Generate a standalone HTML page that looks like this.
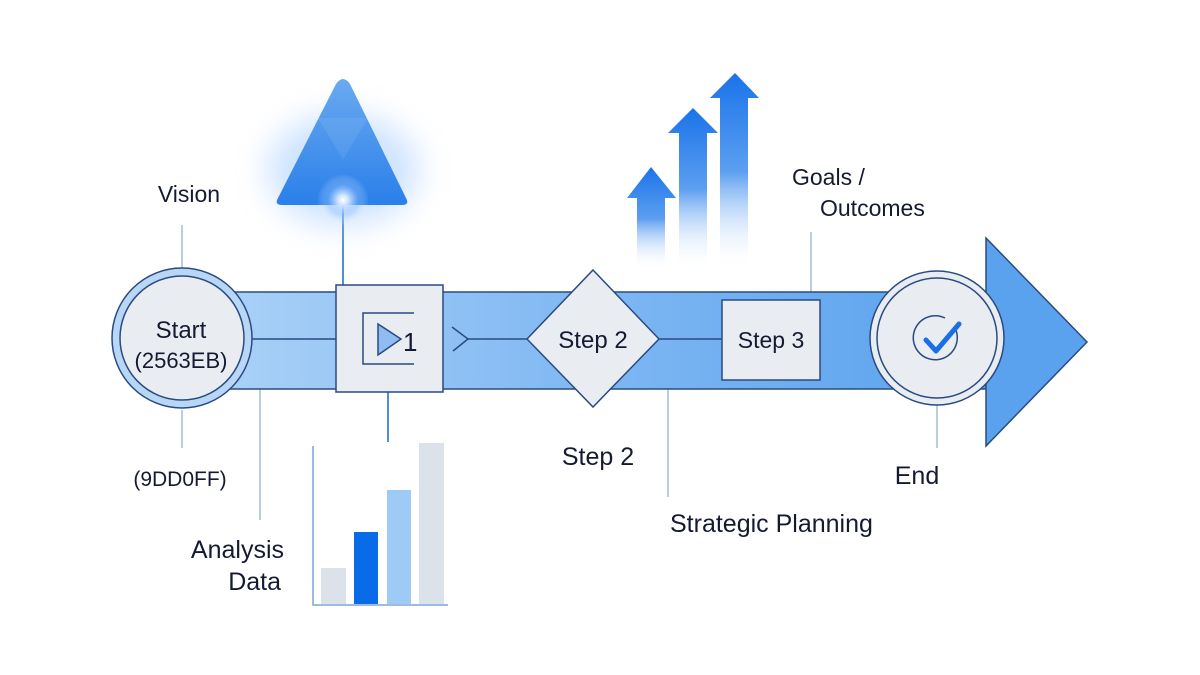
<!DOCTYPE html>
<html><head><meta charset="utf-8"><style>
html,body{margin:0;padding:0;background:#fff;}
svg{display:block;}
text{font-family:"Liberation Sans",sans-serif;fill:#151a33;}
</style></head><body>
<svg width="1200" height="675" viewBox="0 0 1200 675" xmlns="http://www.w3.org/2000/svg">
<defs>
<linearGradient id="band" x1="0" y1="0" x2="1" y2="0">
<stop offset="0" stop-color="#a9d0f7"/><stop offset="0.5" stop-color="#7db6f2"/><stop offset="1" stop-color="#5aa2ee"/>
</linearGradient>
<linearGradient id="arr" x1="0" y1="0" x2="0" y2="1">
<stop offset="0" stop-color="#1a73ea"/><stop offset="0.5" stop-color="#5c9ff0"/><stop offset="1" stop-color="#ffffff" stop-opacity="0"/>
</linearGradient>
<linearGradient id="tri" x1="0" y1="0" x2="0" y2="1">
<stop offset="0" stop-color="#6aaaf0"/><stop offset="1" stop-color="#2a7fea"/>
</linearGradient>
<radialGradient id="glow" cx="0.5" cy="0.5" r="0.5">
<stop offset="0" stop-color="#ffffff"/><stop offset="0.2" stop-color="#cfe4ff"/><stop offset="0.6" stop-color="#8fc0ff" stop-opacity="0.4"/><stop offset="1" stop-color="#ffffff" stop-opacity="0"/>
</radialGradient>
<filter id="blur" x="-100%" y="-100%" width="300%" height="300%"><feGaussianBlur stdDeviation="16"/></filter>
</defs>

<g stroke="#b9cde3" stroke-width="2">
<line x1="182" y1="225" x2="182" y2="268"/>
<line x1="182" y1="410" x2="182" y2="448"/>
<line x1="260" y1="388" x2="260" y2="520"/>
<line x1="668" y1="388" x2="668" y2="497"/>
<line x1="811" y1="232" x2="811" y2="292"/>
<line x1="937" y1="405" x2="937" y2="448"/>
</g>
<line x1="343" y1="200" x2="343" y2="286" stroke="#4f8fd8" stroke-width="2"/>
<line x1="388" y1="392" x2="388" y2="442" stroke="#4f8fd8" stroke-width="2"/>

<ellipse cx="343" cy="170" rx="75" ry="55" fill="#9ac6ff" opacity="0.5" filter="url(#blur)"/>
<path d="M336,84 Q343,74 350,84 L406,198 Q410,205 402,205 L282,205 Q274,205 278,198 Z" fill="url(#tri)"/>
<path d="M318,118 L368,118 L343,160 Z" fill="#ffffff" opacity="0.08"/>
<circle cx="343" cy="200" r="26" fill="url(#glow)"/>

<path d="M627,198 L651,167 L676,198 L665,198 L665,270 L637,270 L637,198 Z" fill="url(#arr)"/>
<path d="M668,133 L693,108 L718,133 L707,133 L707,270 L679,270 L679,133 Z" fill="url(#arr)"/>
<path d="M710,98 L735,73 L759,98 L748,98 L748,270 L720,270 L720,98 Z" fill="url(#arr)"/>

<rect x="230" y="292" width="760" height="97" fill="url(#band)" stroke="#2a4b80" stroke-width="1.5"/>
<path d="M986,238 L1087,342 L986,446 Z" fill="#5aa2ee" stroke="#2a4b80" stroke-width="1.5"/>

<g stroke="#2a4b80" stroke-width="1.5" fill="none">
<line x1="240" y1="339" x2="336" y2="339"/>
<line x1="468" y1="339" x2="528" y2="339"/>
<path d="M452,327 L468,339 L453,351"/>
<line x1="658" y1="339" x2="722" y2="339"/>
</g>

<circle cx="182" cy="338" r="70" fill="#b8d6f6" stroke="#2a4b80" stroke-width="1.5"/>
<circle cx="182" cy="338" r="62" fill="#e9ecf1" stroke="#2a4b80" stroke-width="1.5"/>
<text x="181" y="338" font-size="24" text-anchor="middle">Start</text>
<text x="181" y="368" font-size="22" text-anchor="middle">(2563EB)</text>

<rect x="336" y="285" width="107" height="107" fill="#e9ecf1" stroke="#2a4b80" stroke-width="1.5"/>
<path d="M414,313 L363,313 L363,364 L414,364" fill="none" stroke="#2a4b80" stroke-width="1.5"/>
<path d="M378,324 L401,339 L378,355 Z" fill="#8fbdf3" stroke="#2a4b80" stroke-width="1.5"/>
<text x="403" y="351" font-size="26">1</text>

<path d="M593,270 L659,339 L593,407 L527,339 Z" fill="#e9ecf1" stroke="#2a4b80" stroke-width="1.5"/>
<text x="593" y="348" font-size="24" text-anchor="middle">Step 2</text>

<rect x="722" y="300" width="98" height="80" fill="#e9ecf1" stroke="#2a4b80" stroke-width="1.5"/>
<text x="771" y="348" font-size="23" text-anchor="middle">Step 3</text>

<circle cx="937" cy="338" r="67" fill="#e9ecf1" stroke="#2a4b80" stroke-width="1.5"/>
<circle cx="937" cy="338" r="60" fill="#e9ecf1" stroke="#2a4b80" stroke-width="1.5"/>
<path d="M955,328 A22,22 0 1 1 945,318" fill="none" stroke="#2a4b80" stroke-width="1.5"/>
<path d="M926,340 L936,351 L959,324" fill="none" stroke="#1a6fe6" stroke-width="5" stroke-linecap="round" stroke-linejoin="round"/>

<rect x="321" y="568" width="25" height="36" fill="#dbe2ea"/>
<rect x="354" y="532" width="24" height="72" fill="#0a6be8"/>
<rect x="387" y="490" width="24" height="114" fill="#9ecaf6"/>
<rect x="419" y="443" width="25" height="161" fill="#dbe2ea"/>
<path d="M313,446 L313,605 L448,605" fill="none" stroke="#7aa6d6" stroke-width="1.5"/>

<text x="189" y="202" font-size="23" text-anchor="middle">Vision</text>
<text x="180" y="486" font-size="21" text-anchor="middle">(9DD0FF)</text>
<text x="284" y="558" font-size="25" text-anchor="end">Analysis</text>
<text x="281" y="590" font-size="25" text-anchor="end">Data</text>
<text x="598" y="465" font-size="25" text-anchor="middle">Step 2</text>
<text x="670" y="532" font-size="25">Strategic Planning</text>
<text x="792" y="185" font-size="23">Goals /</text>
<text x="820" y="216" font-size="23">Outcomes</text>
<text x="917" y="484" font-size="25" text-anchor="middle">End</text>
</svg>
</body></html>
